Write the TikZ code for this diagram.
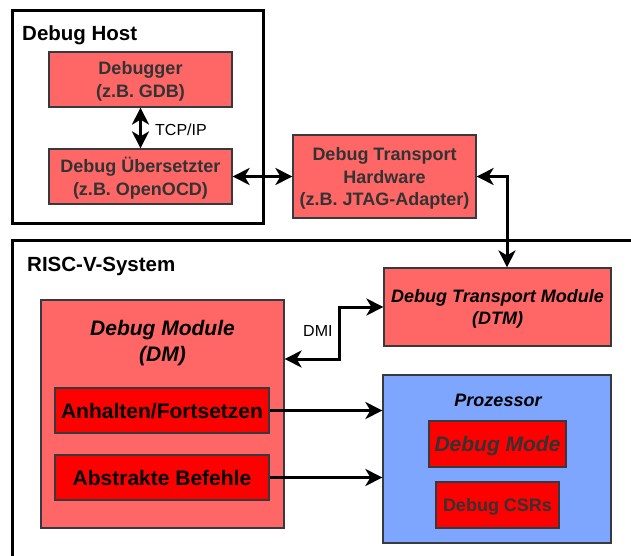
\documentclass[tikz,border=0pt]{standalone}
\usepackage{fontspec}
\setmainfont{Liberation Sans}
\usetikzlibrary{arrows.meta,calc}
\definecolor{lightred}{HTML}{FF6666}
\definecolor{fullred}{HTML}{FF0000}
\definecolor{procblue}{HTML}{7EA6FF}
\definecolor{textgray}{HTML}{333333}
\definecolor{edgegray}{HTML}{36393D}

\tikzset{
  box/.style={draw=edgegray, line width=1.2pt, rectangle, inner sep=0pt,
    align=center, text=textgray, text depth=0pt,
    font=\fontsize{18}{22.5}\selectfont\bfseries},
  softbox/.style={box, fill=lightred},
  hotbox/.style={box, fill=fullred},
  frame/.style={draw=black, line width=3pt},
  title/.style={anchor=base west, inner sep=0pt,
    font=\fontsize{20.5}{24}\selectfont\bfseries},
  tag/.style={anchor=west, inner sep=0pt, font=\fontsize{16}{19}\selectfont},
  link/.style={line width=3pt, -{Stealth[length=17pt,width=17pt,inset=5pt]}},
  bilink/.style={line width=3pt,
    {Stealth[length=17pt,width=17pt,inset=5pt]}-{Stealth[length=17pt,width=17pt,inset=5pt]}},
}

\begin{document}
\begin{tikzpicture}[x=1pt,y=-1pt]
  \fill[white] (0,0) rectangle (631,556);
  \useasboundingbox (0,0) rectangle (631,556);

  % Debug host side
  \draw[frame] (12,11) rectangle (263,223);
  \node[title] (hosttitle) at (22,41) {Debug Host};
  \node[softbox, minimum width=183pt, minimum height=55pt] (dbg) at (140.5,79.5)
    {Debugger\\(z.B. GDB)};
  \node[softbox, minimum width=183pt, minimum height=55pt] (ueb) at (140.5,176.5)
    {Debug Übersetzter\\(z.B. OpenOCD)};
  \node[tag] (tcp) at (155,130) {TCP/IP};

  % Transport hardware between host and target
  \node[softbox, minimum width=183pt, minimum height=83pt] (dth) at (384.5,176.5)
    {Debug Transport\\Hardware\\(z.B. JTAG-Adapter)};

  % Target system
  \draw[frame] (660,240) -- (12,240) -- (12,580);
  \node[title] (systitle) at (27,271) {RISC-V-System};

  \node[softbox, text=black, minimum width=227pt, minimum height=78pt,
    font=\fontsize{18}{22.5}\selectfont\bfseries\itshape] (dtm) at (497.5,307)
    {Debug Transport Module\\(DTM)};

  \node[softbox, minimum width=243pt, minimum height=228pt] (dm) at (162.5,414) {};
  \node[inner sep=0pt, align=center, text=black, text depth=0pt,
    font=\fontsize{21}{26}\selectfont\bfseries\itshape] (dmtitle) at (162.5,341)
    {Debug Module\\(DM)};
  \node[hotbox, text=black, minimum width=214pt, minimum height=45pt,
    font=\fontsize{21}{25}\selectfont\bfseries] (anh) at (162,410.5)
    {Anhalten/Fortsetzen};
  \node[hotbox, text=black, minimum width=214pt, minimum height=45pt,
    font=\fontsize{21}{25}\selectfont\bfseries] (abs) at (162,477.5)
    {Abstrakte Befehle};

  \node[box, fill=procblue, minimum width=228pt, minimum height=168pt] (proz) at (497,459) {};
  \node[inner sep=0pt, text=black,
    font=\fontsize{18}{22}\selectfont\bfseries\itshape] (prozt) at (498,400) {Prozessor};
  \node[hotbox, minimum width=137pt, minimum height=46pt,
    font=\fontsize{21}{25}\selectfont\bfseries\itshape] (dmode) at (497.5,444)
    {Debug Mode};
  \node[hotbox, minimum width=123pt, minimum height=46pt] (dcsr) at (497.5,505)
    {Debug CSRs};

  \node[tag] (dmi) at (303,331) {DMI};

  % Connections
  \draw[bilink] (dbg.south) -- (ueb.north);
  \draw[bilink] (ueb.east) -- (ueb.east -| dth.west);
  \coordinate (j1) at (507,176.5);
  \draw[bilink] (dth.east) -- (j1) -- (j1 |- dtm.north);
  \coordinate (j2) at (339,359);
  \draw[bilink] (dtm.west) -| (j2) -- (j2 -| dm.east);
  \draw[link] (anh.east) -- (anh.east -| proz.west);
  \draw[link] (abs.east) -- (abs.east -| proz.west);
\end{tikzpicture}
\end{document}
